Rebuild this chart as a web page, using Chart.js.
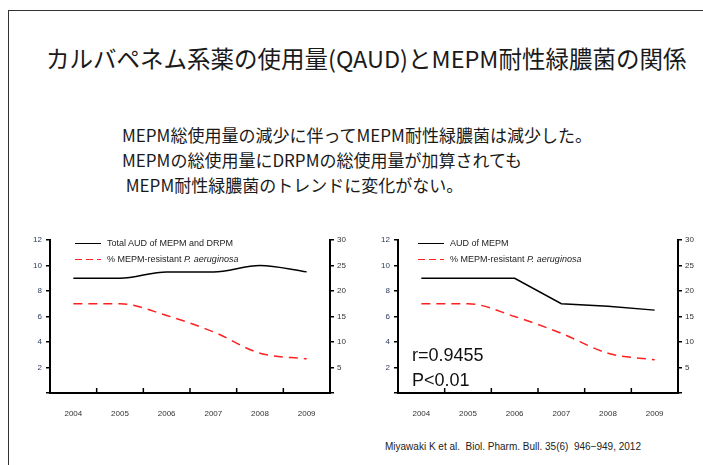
<!DOCTYPE html>
<html>
<head>
<meta charset="utf-8">
<script src="https://cdn.jsdelivr.net/npm/chart.js@4.4.1/dist/chart.umd.min.js"></script>
<style>
html, body { margin: 0; padding: 0; background: #fff; overflow: hidden; }
body { width: 703px; height: 465px; position: relative; font-family: "Noto Sans CJK JP", "Noto Sans", sans-serif; color: #1a1a1a; }
.frame { position: absolute; left: 8px; top: 10px; width: 720px; height: 480px; border: 1.5px solid #333; box-sizing: border-box; }
.title { position: absolute; left: 46px; top: 41px; font-size: 23.5px; white-space: nowrap; letter-spacing: 0px; }
.lead { position: absolute; left: 122px; top: 122px; font-size: 17px; line-height: 25px; white-space: pre; }
.chart-box { position: absolute; width: 340px; height: 190px; }
.legend { position: absolute; font-family: "Liberation Sans", Arial, sans-serif; font-size: 9px; color: #222; }
.legend div { position: relative; height: 16px; line-height: 14px; padding-left: 32px; white-space: nowrap; }
.legend span.mark { position: absolute; left: 0; top: 6.5px; width: 26px; height: 1.6px; }
.legend span.solid { background: #000; }
.legend span.dash { background: repeating-linear-gradient(to right, #ff2020 0 7px, transparent 7px 11px); }
.stat { position: absolute; left: 412px; font-family: "Liberation Sans", Arial, sans-serif; font-size: 18px; color: #111; }
.cite { position: absolute; left: 385px; top: 441px; font-family: "Liberation Sans", Arial, sans-serif; font-size: 10px; color: #222; white-space: nowrap; }
</style>
</head>
<body>
<div class="frame"></div>
<div class="title">カルバペネム系薬の使用量(QAUD)とMEPM耐性緑膿菌の関係</div>
<div class="lead">MEPM総使用量の減少に伴ってMEPM耐性緑膿菌は減少した。
MEPMの総使用量にDRPMの総使用量が加算されても
 MEPM耐性緑膿菌のトレンドに変化がない。</div>

<div class="chart-box" style="left:20px; top:228px;"><canvas id="chartLeft" width="340" height="190"></canvas></div>
<div class="chart-box" style="left:368px; top:228px;"><canvas id="chartRight" width="340" height="190"></canvas></div>

<div class="legend" style="left:75px; top:236px;">
  <div><span class="mark solid"></span>Total AUD of MEPM and DRPM</div>
  <div><span class="mark dash"></span>% MEPM-resistant <i>P. aeruginosa</i></div>
</div>
<div class="legend" style="left:418px; top:236px;">
  <div><span class="mark solid"></span>AUD of MEPM</div>
  <div><span class="mark dash"></span>% MEPM-resistant <i>P. aeruginosa</i></div>
</div>

<div class="stat" style="top:345px;">r=0.9455</div>
<div class="stat" style="top:370px;">P&lt;0.01</div>
<div class="cite">Miyawaki K et al.&nbsp; Biol. Pharm. Bull. 35(6)&nbsp; 946−949, 2012</div>

<script>
// データ
const years = ['2004', '2005', '2006', '2007', '2008', '2009'];
const totalAud = [9, 9, 9.5, 9.5, 10, 9.5];          // MEPM + DRPM
const resistLeft = [17.5, 17.5, 15.2, 12, 7.8, 6.7];  // % 耐性 (右軸)
const mepmAud = [9, 9, 9, 7, 6.8, 6.5];
const resistRight = [17.5, 17.5, 15, 11.7, 7.8, 6.5];

// x軸の目盛り線（カテゴリの間、上向き）
const innerTicks = {
    id: 'innerTicks',
    afterDraw(chart) {
        const x = chart.scales.x;
        const ctx = chart.ctx;
        const bottom = chart.chartArea.bottom;
        const step = x.getPixelForValue(1) - x.getPixelForValue(0);
        ctx.save();
        ctx.strokeStyle = '#000';
        ctx.lineWidth = 1.5;
        for (let i = 1; i < years.length; i++) {
            const px = x.getPixelForValue(i) - step / 2;
            ctx.beginPath();
            ctx.moveTo(px, bottom);
            ctx.lineTo(px, bottom - 5);
            ctx.stroke();
        }
        ctx.restore();
    }
};

function makeChart(id, audData, resistData, blackTension) {
    return new Chart(document.getElementById(id).getContext('2d'), {
        type: 'line',
        data: {
            labels: years,
            datasets: [{
                data: audData,
                borderColor: '#000',
                borderWidth: 1.5,
                pointRadius: 0,
                tension: blackTension,
                cubicInterpolationMode: blackTension ? 'monotone' : 'default',
                yAxisID: 'y'
            }, {
                data: resistData,
                borderColor: '#ff2020',
                borderWidth: 1.5,
                borderDash: [9, 6],
                pointRadius: 0,
                cubicInterpolationMode: 'monotone',
                yAxisID: 'y1'
            }]
        },
        options: {
            responsive: false,
            animation: false,
            layout: { padding: { top: 12, left: 0, right: 0, bottom: 0 } },
            plugins: { legend: { display: false }, tooltip: { enabled: false } },
            scales: {
                x: {
                    offset: true,
                    grid: { display: false },
                    border: { color: '#000', width: 2 },
                    ticks: { color: '#333', font: { family: 'Liberation Sans', size: 8 }, padding: 8, maxRotation: 0 },
                    afterFit(s) { s.height = 25; }
                },
                y: {
                    min: 0, max: 12,
                    grid: { drawOnChartArea: false, color: '#000', lineWidth: 1.5, tickLength: 4 },
                    border: { color: '#000', width: 2 },
                    ticks: { stepSize: 2, color: '#2d3b5e', font: { family: 'Liberation Sans', size: 8 }, padding: 4,
                             callback: v => v === 0 ? '' : v },
                    afterFit(s) { s.width = 30; }
                },
                y1: {
                    position: 'right',
                    min: 0, max: 30,
                    grid: { drawOnChartArea: false, color: '#000', lineWidth: 1.5, tickLength: 4 },
                    border: { color: '#000', width: 2 },
                    ticks: { stepSize: 5, color: '#333', font: { family: 'Liberation Sans', size: 8 }, padding: 3,
                             callback: v => v === 0 ? '' : v },
                    afterFit(s) { s.width = 30; }
                }
            }
        },
        plugins: [innerTicks]
    });
}

makeChart('chartLeft', totalAud, resistLeft, 0.4);
makeChart('chartRight', mepmAud, resistRight, 0);
</script>
</body>
</html>
